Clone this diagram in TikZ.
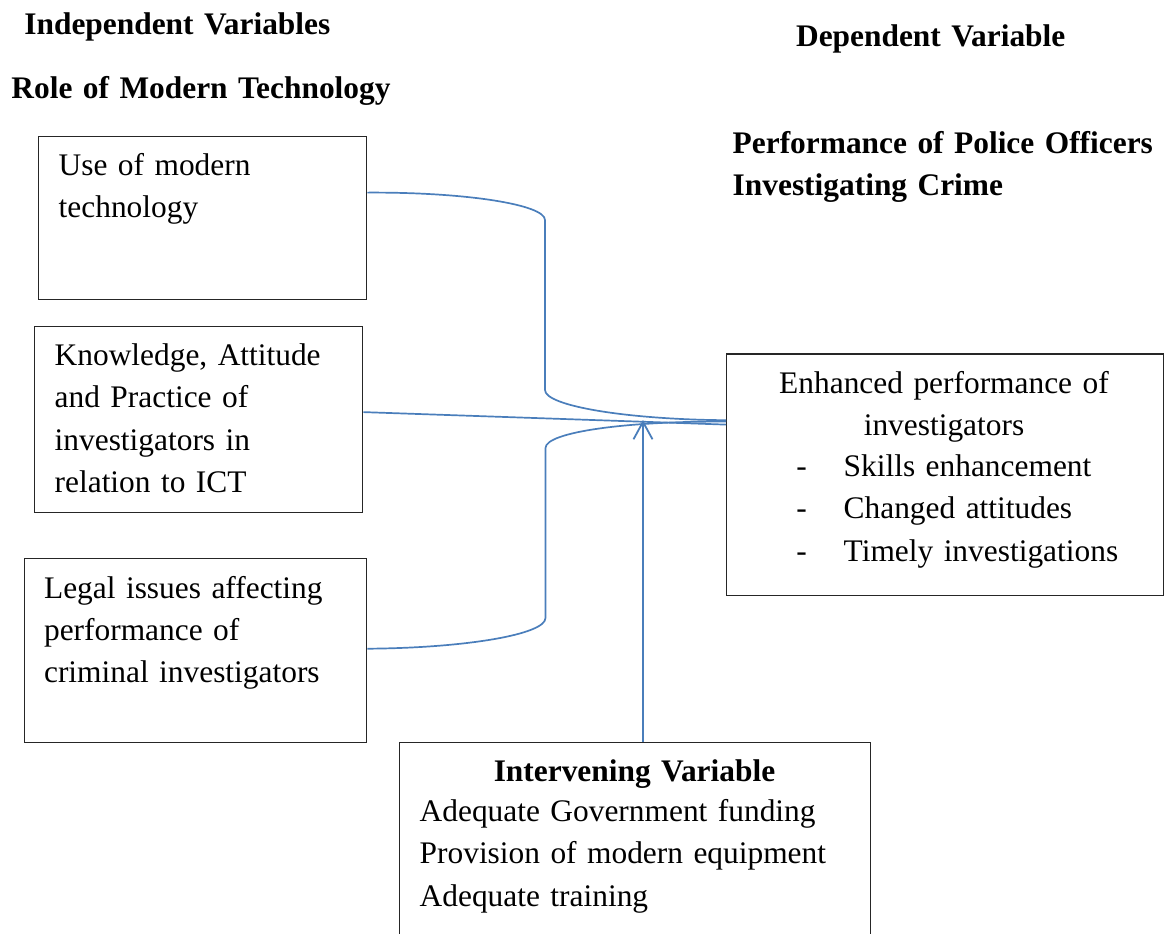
\documentclass[tikz,border=0pt]{standalone}
\usepackage{fontspec}
\setmainfont{Liberation Serif}
\usetikzlibrary{arrows.meta}
\definecolor{linkblue}{RGB}{74,126,187}
\begin{document}
\begin{tikzpicture}[x=0.5pt,y=-0.5pt,
  box/.style={draw=black!85, line width=0.65pt, inner sep=0pt, anchor=north west},
  txt/.style={inner sep=0pt, anchor=base west, align=left, text width=300pt,
    font=\fontsize{15.7pt}{21.1pt}\selectfont},
  hd/.style={txt, font=\fontsize{15.7pt}{20.9pt}\selectfont\bfseries},
  conn/.style={draw=linkblue, line width=0.85pt}]
\useasboundingbox (0,0) rectangle (1168,933);
\clip (0,0) rectangle (1168,933);

% headings
\node[hd] (h1) at (24,34.3) {Independent Variables};
\node[hd] (h2) at (11,98.3) {Role of Modern Technology};
\node[hd] (h3) at (795.7,46.7) {Dependent Variable};
\node[hd, text width=230pt] (h4) at (732.3,153.3) {Performance of Police Officers\\Investigating Crime};

% boxes
\node[box, minimum width=164pt, minimum height=81.65pt] (b1) at (38,135.7) {};
\node[box, minimum width=164pt, minimum height=92.85pt] (b2) at (34,326) {};
\node[box, minimum width=171pt, minimum height=91.85pt] (b3) at (24,558) {};
\node[box, minimum width=218.35pt, minimum height=120.85pt] (dep) at (726,353.3) {};
\node[box, minimum width=235.75pt, minimum height=110pt] (int) at (398.5,741.5) {};

% box texts
\node[txt] (t1) at (58.3,175) {Use of modern\\technology};
\node[txt] (t2) at (54.3,365.7) {Knowledge, Attitude\\and Practice of\\investigators in\\relation to ICT};
\node[txt] (t3) at (43.7,598.3) {Legal issues affecting\\performance of\\criminal investigators};
\node[txt, anchor=base, align=center] (d1) at (944,393.3) {Enhanced performance of\\investigators};
\node[txt] (d2) at (796,476.7) {\makebox[23.65pt][l]{-}Skills enhancement\\\makebox[23.65pt][l]{-}Changed attitudes\\\makebox[23.65pt][l]{-}Timely investigations};
\node[hd, anchor=base, align=center] (i1) at (634.5,781.7) {Intervening Variable};
\node[txt] (i2) at (419.3,821.7) {Adequate Government funding\\Provision of modern equipment\\Adequate training};

% connectors
\coordinate (meet) at (643,420);
\draw[conn] ([yshift=12.7pt]b1.east) .. controls (465,192) and (545,204.5) .. (545,220)
  -- (545,390) .. controls (545,406) and (627,419.5) .. ([yshift=27.3pt]dep.west);
\draw[conn] ([yshift=3.7pt]b2.east) -- ([yshift=25.1pt]dep.west);
\draw[conn] ([yshift=0.9pt]b3.east) .. controls (465,648) and (545.5,634.5) .. (545.5,618)
  -- (545.5,448) .. controls (545.5,432) and (627,421) .. ([yshift=26.6pt]dep.west);
\draw[conn, -{Straight Barb[length=8.7pt,width=9.5pt,line width=0.9pt]}] (int.north -| meet) -- (meet);
\end{tikzpicture}
\end{document}
